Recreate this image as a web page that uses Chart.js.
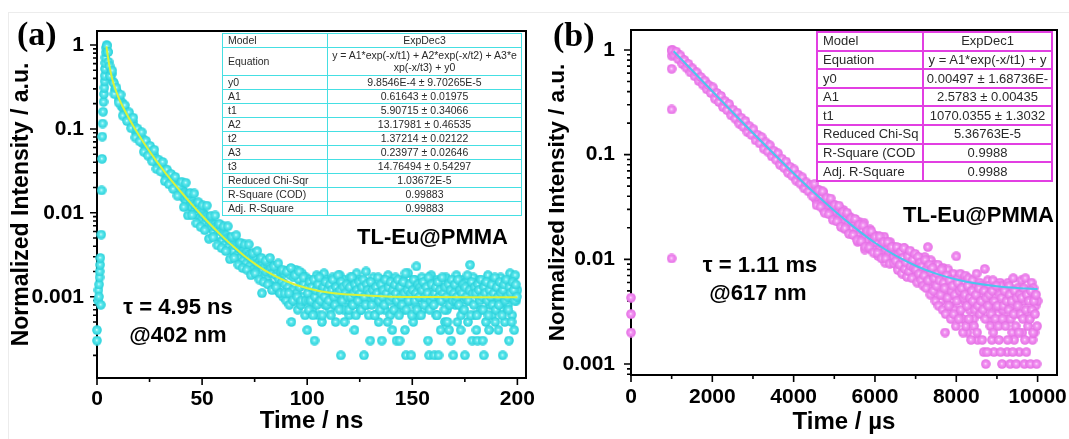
<!DOCTYPE html>
<html lang="en">
<head>
<meta charset="utf-8">
<script src="https://cdn.jsdelivr.net/npm/chart.js@4.4.0/dist/chart.umd.min.js"></script>
<style>
  html, body { margin: 0; padding: 0; background: #fff; }
  #page { position: relative; width: 1069px; height: 439px; overflow: hidden; font-family: "Liberation Sans", Arial, sans-serif; }
  #page canvas { position: absolute; top: 0; }
  .lbl { position: absolute; font-weight: bold; line-height: 1; white-space: nowrap; color: #000; font-size: 22px; }
  .panel { font-family: "Liberation Serif", "Times New Roman", serif; font-size: 34px; }
  .frameline { position: absolute; left: 8px; top: 12px; right: 0; bottom: 0; border-left: 1px solid #ececec; border-top: 1px solid #ececec; }
  table.fit { position: absolute; border-collapse: collapse; table-layout: fixed; background: #fff; color: #2a2a2a; }
  table.fit td { white-space: nowrap; overflow: hidden; padding: 0 0 0 5px; line-height: 1.05; }
  table.fit td + td { text-align: center; padding: 0; }
</style>
</head>
<body>
<div id="page">
  <div class="frameline"></div>
  <canvas id="chartA" width="540" height="439" style="left:0"></canvas>
  <canvas id="chartB" width="529" height="439" style="left:540px"></canvas>

  <div class="lbl panel" style="left:17px;top:16.5px">(a)</div>
  <div class="lbl panel" style="left:553px;top:17.5px">(b)</div>

  <div class="lbl" style="right:561px;top:226.4px">TL-Eu@PMMA</div>
  <div class="lbl" style="left:78px;width:200px;text-align:center;top:296.4px">τ = 4.95 ns</div>
  <div class="lbl" style="left:78px;width:200px;text-align:center;top:324.4px">@402 nm</div>

  <div class="lbl" style="right:15px;top:204.4px">TL-Eu@PMMA</div>
  <div class="lbl" style="left:660px;width:200px;text-align:center;top:254.4px">τ = 1.11 ms</div>
  <div class="lbl" style="left:658px;width:200px;text-align:center;top:282.4px">@617 nm</div>

  <table class="fit" id="tableA" style="left:222px;top:33px;width:300px;height:181px;font-size:10.5px"></table>
  <table class="fit" id="tableB" style="left:816px;top:31px;width:237px;height:149px;font-size:13px"></table>
</div>

<script>
// ---------- panel (a): decay at 402 nm, time in ns ----------
const aRiseX = [0, 0, 0.5, 0.7, 0.9, 1.0, 1.2, 1.3, 1.5, 1.6, 1.8, 2.0, 2.2, 2.4, 2.5, 2.7, 2.9, 3.1, 3.3, 3.5, 3.6, 3.7, 3.8, 3.9, 4.0, 4.2, 4.4, 4.6, 4.8];
const aRiseY = [0.0004, 0.0003, 0.0009, 0.0012, 0.0010, 0.0014, 0.0017, 0.0020, 0.0024, 0.0029, 0.0008, 0.0055, 0.0185, 0.044, 0.081, 0.116, 0.16, 0.21, 0.26, 0.31, 0.37, 0.43, 0.52, 0.61, 0.71, 0.82, 0.93, 1.0, 0.97];

// decay samples every 0.5 ns, from 5.0 to 99.5 ns
const aDecayStart = 5;
const aStep = 0.5;
const aDecayY = [
  0.828, 0.629, 0.561, 0.446, 0.453, 0.368, 0.352, 0.293, 0.288, 0.279,
  0.260, 0.221, 0.220, 0.189, 0.205, 0.176, 0.177, 0.151, 0.153, 0.152,
  0.145, 0.125, 0.126, 0.110, 0.121, 0.104, 0.105, 0.0906, 0.0921, 0.0924,
  0.0890, 0.0770, 0.0781, 0.0681, 0.0755, 0.0657, 0.0668, 0.0578, 0.0590, 0.0594,
  0.0575, 0.0499, 0.0508, 0.0445, 0.0497, 0.0433, 0.0442, 0.0384, 0.0393, 0.0397,
  0.0385, 0.0336, 0.0344, 0.0302, 0.0338, 0.0295, 0.0302, 0.0262, 0.0269, 0.0272,
  0.0265, 0.0231, 0.0238, 0.0209, 0.0235, 0.0206, 0.0211, 0.0184, 0.0190, 0.0192,
  0.0189, 0.0158, 0.0183, 0.0149, 0.0170, 0.0138, 0.0162, 0.0152, 0.0121, 0.0146,
  0.0118, 0.0136, 0.0128, 0.0104, 0.0124, 0.0099, 0.0116, 0.0111, 0.0087, 0.0106,
  0.0084, 0.0099, 0.0093, 0.0075, 0.0091, 0.0086, 0.0069, 0.0083, 0.0066, 0.0079,
  0.0073, 0.0059, 0.0072, 0.0068, 0.0054, 0.0067, 0.0052, 0.0063, 0.0060, 0.0046,
  0.0058, 0.0055, 0.0042, 0.0054, 0.0050, 0.0039, 0.0049, 0.0047, 0.0036, 0.0046,
  0.0035, 0.0044, 0.0041, 0.0031, 0.0041, 0.0038, 0.0029, 0.0038, 0.0035, 0.0027,
  0.0036, 0.0033, 0.0025, 0.0034, 0.0031, 0.0023, 0.0032, 0.0029, 0.0021, 0.0030,
  0.0027, 0.0020, 0.0029, 0.0025, 0.0018, 0.0027, 0.0024, 0.0011, 0.0025, 0.0017,
  0.0023, 0.0020, 0.0016, 0.0024, 0.0021, 0.0014, 0.0022, 0.0019, 0.0013, 0.0023,
  0.0018, 0.0012, 0.0021, 0.0016, 0.0011, 0.0020, 0.0015, 0.0010, 0.0019, 0.0014,
  0.0009, 0.0020, 0.0013, 0.0008, 0.0018, 0.0005, 0.0012, 0.0017, 0.0009, 0.0021,
  0.0011, 0.0007, 0.0016, 0.0013, 0.0008, 0.0019, 0.0010, 0.0014, 0.0006, 0.0017
];

// wider scatter of the decay, every 1 ns from 5.25 to 99.25 ns
const aSpreadStart = 5.25;
const aSpreadStep = 1;
const aSpreadY = [
  0.826, 0.428, 0.496, 0.260, 0.310, 0.207, 0.256, 0.144, 0.191, 0.124,
  0.158, 0.102, 0.136, 0.079, 0.101, 0.0713, 0.0915, 0.0534, 0.0723, 0.0480,
  0.0627, 0.0411, 0.0564, 0.0334, 0.0431, 0.0311, 0.0404, 0.0239, 0.0328, 0.0219,
  0.0290, 0.0192, 0.0268, 0.0160, 0.0209, 0.0235, 0.0117, 0.0228, 0.0093, 0.0172,
  0.0094, 0.0170, 0.0075, 0.0134, 0.0068, 0.0123, 0.0062, 0.0122, 0.0049, 0.0092,
  0.0051, 0.0093, 0.0041, 0.0074, 0.0038, 0.0069, 0.0035, 0.0069, 0.0028, 0.0052,
  0.0029, 0.0054, 0.0024, 0.0044, 0.0022, 0.0042, 0.0021, 0.0042, 0.0018, 0.0033,
  0.0019, 0.0035, 0.0016, 0.0029, 0.0015, 0.0027, 0.0014, 0.0029, 0.0012, 0.0023,
  0.0013, 0.0025, 0.0011, 0.0021, 0.0011, 0.0020, 0.0011, 0.0022, 0.0009, 0.0018,
  0.0010, 0.0020, 0.0009, 0.0017, 0.0009
];

// noisy background, every 0.5 ns from 100 to 200 ns
const aTailStart = 100;
const aTailY = [
  0.0004, 0.0013, 0.0009, 0.0016, 0.0011, 0.0007, 0.0014, 0.0003, 0.0012, 0.0018,
  0.0010, 0.0006, 0.0015, 0.0011, 0.0005, 0.0013, 0.0019, 0.0008, 0.0012, 0.0016,
  0.0009, 0.0014, 0.0007, 0.0011, 0.0017, 0.0010, 0.0013, 0.0005, 0.0015, 0.0008,
  0.0012, 0.0018, 0.0002, 0.0010, 0.0014, 0.0007, 0.0016, 0.0011, 0.0009, 0.0013,
  0.0006, 0.0017, 0.0012, 0.0008, 0.0014, 0.0004, 0.0011, 0.0019, 0.0009, 0.0013,
  0.0016, 0.0007, 0.0012, 0.0010, 0.0002, 0.0015, 0.0020, 0.0008, 0.0013, 0.0011,
  0.0003, 0.0014, 0.0009, 0.0017, 0.0006, 0.0012, 0.0010, 0.0015, 0.0005, 0.0013,
  0.0008, 0.0003, 0.0016, 0.0011, 0.0007, 0.0014, 0.0010, 0.0018, 0.0012, 0.0006,
  0.0015, 0.0004, 0.0011, 0.0009, 0.0017, 0.0003, 0.0013, 0.0008, 0.0003, 0.0014,
  0.0010, 0.0016, 0.0007, 0.0004, 0.0002, 0.0012, 0.0019, 0.0009, 0.0014, 0.0002,
  0.0011, 0.0005, 0.0016, 0.0008, 0.0023, 0.0012, 0.0006, 0.0014, 0.0010, 0.0017,
  0.0007, 0.0013, 0.0009, 0.0015, 0.0011, 0.0003, 0.0002, 0.0012, 0.0018, 0.0008,
  0.0014, 0.0002, 0.0010, 0.0006, 0.0016, 0.0002, 0.0012, 0.0004, 0.0009, 0.0015,
  0.0011, 0.0005, 0.0017, 0.0007, 0.0013, 0.0004, 0.0010, 0.0003, 0.0015, 0.0002,
  0.0012, 0.0008, 0.0018, 0.0005, 0.0014, 0.0010, 0.0004, 0.0016, 0.0007, 0.0012,
  0.0002, 0.0015, 0.0009, 0.0005, 0.0013, 0.0024, 0.0011, 0.0003, 0.0017, 0.0006,
  0.0014, 0.0004, 0.0003, 0.0010, 0.0016, 0.0007, 0.0012, 0.0003, 0.0002, 0.0015,
  0.0005, 0.0011, 0.0018, 0.0004, 0.0008, 0.0013, 0.0006, 0.0016, 0.0010, 0.0005,
  0.0014, 0.0009, 0.0004, 0.0012, 0.0017, 0.0007, 0.0002, 0.0013, 0.0005, 0.0010,
  0.0015, 0.0008, 0.0003, 0.0019, 0.0011, 0.0006, 0.0014, 0.0004, 0.0018, 0.0009,
  0.0012
];

// second set of background samples in between, from 100.25 ns
const aTail2Start = 100.25;
const aTail2Y = [
  0.0011, 0.0007, 0.0015, 0.0009, 0.0013, 0.0006, 0.0016, 0.0010, 0.0012, 0.0008, 0.0014, 0.0017, 0.0009, 0.0011, 0.0006, 0.0013, 0.0010, 0.0015, 0.0008, 0.0012,
  0.0009, 0.0014, 0.0006, 0.0012, 0.0016, 0.0010, 0.0008, 0.0013, 0.0011, 0.0018, 0.0007, 0.0012, 0.0015, 0.0009, 0.0013, 0.0005, 0.0011, 0.0014, 0.0010, 0.0007,
  0.0013, 0.0010, 0.0017, 0.0008, 0.0011, 0.0014, 0.0006, 0.0012, 0.0009, 0.0015, 0.0011, 0.0007, 0.0013, 0.0016, 0.0010, 0.0008, 0.0014, 0.0012, 0.0006, 0.0011,
  0.0015, 0.0008, 0.0012, 0.0010, 0.0006, 0.0013, 0.0011, 0.0017, 0.0009, 0.0007, 0.0014, 0.0010, 0.0012, 0.0008, 0.0016, 0.0011, 0.0005, 0.0013, 0.0009, 0.0015,
  0.0010, 0.0012, 0.0007, 0.0014, 0.0011, 0.0009, 0.0016, 0.0006, 0.0013, 0.0010, 0.0008, 0.0015, 0.0011, 0.0019, 0.0007, 0.0012, 0.0009, 0.0014, 0.0011, 0.0006,
  0.0012, 0.0016, 0.0009, 0.0011, 0.0007, 0.0014, 0.0010, 0.0013, 0.0006, 0.0012, 0.0015, 0.0008, 0.0010, 0.0013, 0.0011, 0.0017, 0.0007, 0.0009, 0.0014, 0.0010,
  0.0008, 0.0011, 0.0013, 0.0006, 0.0015, 0.0010, 0.0012, 0.0009, 0.0017, 0.0011, 0.0007, 0.0013, 0.0010, 0.0005, 0.0014, 0.0008, 0.0012, 0.0016, 0.0009, 0.0011,
  0.0014, 0.0009, 0.0010, 0.0016, 0.0008, 0.0012, 0.0006, 0.0011, 0.0014, 0.0007, 0.0013, 0.0010, 0.0018, 0.0009, 0.0012, 0.0006, 0.0015, 0.0011, 0.0008, 0.0013,
  0.0011, 0.0006, 0.0014, 0.0012, 0.0009, 0.0016, 0.0010, 0.0007, 0.0013, 0.0011, 0.0015, 0.0009, 0.0006, 0.0012, 0.0010, 0.0014, 0.0008, 0.0011, 0.0017, 0.0007,
  0.0013, 0.0010, 0.0008, 0.0015, 0.0011, 0.0006, 0.0012, 0.0014, 0.0009, 0.0016, 0.0010, 0.0007, 0.0013, 0.0011, 0.0005, 0.0015, 0.0012, 0.0009, 0.0014, 0.0010
];

const aFitX = [4.5, 5, 6, 7, 8, 10, 12, 15, 18, 22, 26, 30, 35, 40, 45, 50, 55, 60, 65, 70, 75, 80, 90, 100, 110, 120, 140, 160, 180, 200];
const aFitY = [0.962, 0.781, 0.550, 0.419, 0.338, 0.245, 0.190, 0.137, 0.101, 0.0699, 0.0498, 0.0363, 0.0250, 0.0177, 0.0127, 0.00923, 0.00682, 0.00513, 0.00393, 0.00308, 0.00248, 0.00205, 0.00153, 0.00126, 0.00112, 0.00106, 0.00100, 0.000990, 0.000986, 0.000986];

const aXMajor = [0, 50, 100, 150, 200];

// ---------- panel (b): decay at 617 nm, time in µs ----------
const bEdgeX = [0, 0, 0, 1000, 1000, 1000, 1000];
const bEdgeY = [0.0043, 0.0030, 0.0020, 0.0102, 0.27, 0.66, 0.88];

// samples every 25 µs from 1000 to 10000 µs
const bDecayStart = 1000;
const bStep = 25;
const bDecayY = [
  1.00, 0.99, 0.96, 0.95,   0.94, 0.89, 0.90, 0.84,   0.86, 0.81, 0.82, 0.77,   0.79, 0.74, 0.75, 0.70,
  0.71, 0.68, 0.66, 0.67,   0.65, 0.61, 0.62, 0.58,   0.60, 0.56, 0.55, 0.53,   0.54, 0.51, 0.52, 0.48,
  0.49, 0.48, 0.45, 0.46,   0.45, 0.42, 0.43, 0.40,   0.41, 0.39, 0.39, 0.37,   0.38, 0.35, 0.35, 0.34,
  0.34, 0.33, 0.31, 0.32,   0.31, 0.29, 0.30, 0.28,   0.29, 0.27, 0.26, 0.26,   0.26, 0.245, 0.245, 0.23,
  0.24, 0.22, 0.225, 0.21,  0.215, 0.205, 0.20, 0.195, 0.20, 0.185, 0.185, 0.175, 0.18, 0.17, 0.17, 0.16,
  0.165, 0.155, 0.155, 0.148, 0.152, 0.141, 0.142, 0.133, 0.137, 0.130, 0.127, 0.124, 0.127, 0.118, 0.119, 0.112,
  0.115, 0.108, 0.109, 0.103, 0.106, 0.099, 0.097, 0.094, 0.097, 0.090, 0.091, 0.085, 0.088, 0.083, 0.081, 0.079,
  0.082, 0.075, 0.076, 0.071, 0.074, 0.069, 0.071, 0.066, 0.069, 0.063, 0.064, 0.060, 0.062, 0.059, 0.057, 0.056,
  0.058, 0.053, 0.054, 0.050, 0.053, 0.049, 0.050, 0.046, 0.049, 0.045, 0.044, 0.044,
  0.0472, 0.0384, 0.0427, 0.0346, 0.0463, 0.0379, 0.0339, 0.0398, 0.0346, 0.0438, 0.0290, 0.0349,
  0.0377, 0.0306, 0.0320, 0.0377, 0.0273, 0.0320, 0.0287, 0.0333, 0.0315, 0.0257, 0.0285, 0.0232,
  0.0312, 0.0256, 0.0228, 0.0268, 0.0234, 0.0296, 0.0196, 0.0237, 0.0256, 0.0208, 0.0218, 0.0256,
  0.0187, 0.0219, 0.0197, 0.0229, 0.0225, 0.0169, 0.0199, 0.0147, 0.0229, 0.0175, 0.0149, 0.0191,
  0.0159, 0.0224, 0.0124, 0.0167, 0.0189, 0.0142, 0.0153, 0.0194, 0.0125, 0.0159, 0.0138, 0.0171,
  0.0162, 0.0123, 0.0145, 0.0108, 0.0166, 0.0127, 0.0110, 0.0140, 0.0116, 0.0165, 0.0093, 0.0124,
  0.0139, 0.0106, 0.0114, 0.0146, 0.0093, 0.0120, 0.0104, 0.0131, 0.0122, 0.0093, 0.0110, 0.0083,
  0.0127, 0.0098, 0.0085, 0.0109, 0.0090, 0.0127, 0.0072, 0.0097, 0.0109, 0.0083, 0.0090, 0.0115,
  0.0074, 0.0095, 0.0083, 0.0104, 0.0097, 0.0075, 0.0090, 0.0068, 0.0102, 0.0080, 0.0070, 0.0091,
  0.0074, 0.0105, 0.0060, 0.0082, 0.0131, 0.0069, 0.0076, 0.0098, 0.0061, 0.0079, 0.0070, 0.0089,
  0.0066, 0.0046, 0.0089, 0.0053, 0.0076, 0.0040, 0.0060, 0.0083, 0.0050, 0.0020, 0.0070, 0.0043,
  0.0080, 0.0056, 0.0036, 0.0066, 0.0046, 0.0073, 0.0033, 0.0060, 0.0107, 0.0043, 0.0066, 0.0030,
  0.0073, 0.0050, 0.0027, 0.0060, 0.0040, 0.0070, 0.0053, 0.0020, 0.0066, 0.0033, 0.0056, 0.0043,
  0.0063, 0.0027, 0.0053, 0.0036, 0.0073, 0.0017, 0.0046, 0.0060, 0.0056, 0.0033, 0.0046, 0.0013,
  0.0081, 0.0010, 0.0043, 0.0063, 0.0056, 0.0027, 0.0040, 0.0017, 0.0063, 0.0013, 0.0036, 0.0053,
  0.0050, 0.0030, 0.0017, 0.0060, 0.0056, 0.0010, 0.0033, 0.0046, 0.0050, 0.0027, 0.0013, 0.0060,
  0.0056, 0.0010, 0.0036, 0.0020, 0.0066, 0.0017, 0.0043, 0.0010, 0.0053, 0.0030, 0.0013, 0.0046,
  0.0063, 0.0020, 0.0040, 0.0010, 0.0066, 0.0013, 0.0050, 0.0027, 0.0046, 0.0010, 0.0060, 0.0017,
  0.0053, 0.0020, 0.0036, 0.0010,
  0.0040
];

// wider scatter along the decay, every 50 µs from 1012.5 µs
const bSpreadStart = 1012.5;
const bSpreadStep = 50;
const bSpreadY = [
  0.98, 0.89, 0.964, 0.815, 0.886, 0.734, 0.800, 0.676, 0.736, 0.610,
  0.665, 0.562, 0.612, 0.506, 0.552, 0.467, 0.509, 0.421, 0.459, 0.388,
  0.439, 0.342, 0.388, 0.318, 0.364, 0.284, 0.324, 0.266, 0.304, 0.237,
  0.269, 0.221, 0.252, 0.197, 0.225, 0.184, 0.210, 0.164, 0.187, 0.154,
  0.175, 0.137, 0.155, 0.128, 0.147, 0.114, 0.131, 0.107, 0.123, 0.096,
  0.109, 0.0894, 0.103, 0.080, 0.0914, 0.075, 0.0859, 0.0671, 0.0766, 0.0628,
  0.0723, 0.0564, 0.0644, 0.0529, 0.0608, 0.0475, 0.0544, 0.0446, 0.0515, 0.0402,
  0.0525, 0.0329, 0.0457, 0.0318, 0.0445, 0.0278, 0.0388, 0.0270, 0.0381, 0.0238,
  0.0331, 0.0231, 0.0326, 0.0204, 0.0284, 0.0198, 0.0279, 0.0175, 0.0246, 0.0171,
  0.0243, 0.0152, 0.0214, 0.0149, 0.0211, 0.0132, 0.0186, 0.0130, 0.0185, 0.0116,
  0.0164, 0.0115, 0.0165, 0.0102, 0.0146, 0.0102, 0.0146, 0.0091, 0.0131, 0.0092
];

// extra samples in between for the spread-out late part, from 6512.5 µs
const bDenseStart = 6512.5;
const bDenseY = [
  0.0097, 0.0131, 0.0079, 0.0112, 0.0089, 0.0118, 0.0073, 0.0103, 0.0128, 0.0081, 0.0094, 0.0068,
  0.0107, 0.0077, 0.0121, 0.0086, 0.0066, 0.0099, 0.0083, 0.0113, 0.0080, 0.0060, 0.0106, 0.0073,
  0.0093, 0.0063, 0.0086, 0.0056, 0.0070, 0.0099, 0.0053, 0.0083, 0.0063, 0.0089, 0.0046, 0.0076,
  0.0083, 0.0050, 0.0066, 0.0040, 0.0056, 0.0073, 0.0036, 0.0063, 0.0046, 0.0080, 0.0033, 0.0060,
  0.0053, 0.0030, 0.0070, 0.0043, 0.0036, 0.0063, 0.0027, 0.0050, 0.0056, 0.0030, 0.0046, 0.0023,
  0.0040, 0.0060, 0.0027, 0.0050, 0.0033, 0.0053, 0.0020, 0.0043, 0.0046, 0.0023, 0.0036, 0.0056,
  0.0027, 0.0043, 0.0017, 0.0050, 0.0040, 0.0023, 0.0033, 0.0046, 0.0020, 0.0036, 0.0053, 0.0030,
  0.0040, 0.0017, 0.0033, 0.0050, 0.0027, 0.0043, 0.0013, 0.0036, 0.0046, 0.0023, 0.0030, 0.0050,
  0.0020, 0.0040, 0.0027, 0.0056, 0.0036, 0.0023, 0.0046, 0.0013, 0.0043, 0.0027, 0.0036, 0.0050,
  0.0023, 0.0040, 0.0017, 0.0033, 0.0046, 0.0027, 0.0040, 0.0013, 0.0030, 0.0050, 0.0023, 0.0043,
  0.0036, 0.0020, 0.0046, 0.0030, 0.0043, 0.0027, 0.0053, 0.0017, 0.0033, 0.0046, 0.0023, 0.0040,
  0.0027, 0.0050, 0.0033, 0.0020, 0.0040, 0.0030, 0.0046, 0.0023
];

const bFitX = [1050, 1500, 2000, 2500, 3000, 3500, 4000, 4500, 5000, 5500, 6000, 6500, 7000, 7500, 8000, 8500, 9000, 9500, 10000];
const bFitY = [0.971, 0.640, 0.403, 0.254, 0.161, 0.103, 0.0664, 0.0434, 0.0291, 0.0201, 0.0144, 0.0109, 0.00869, 0.00730, 0.00643, 0.00588, 0.00554, 0.00533, 0.00520];

const bXMajor = [0, 2000, 4000, 6000, 8000, 10000];

// shared log axis labels
const yMajorValues = [0.001, 0.01, 0.1, 1];
const yMajorLabels = ['0.001', '0.01', '0.1', '1'];

// fit result tables
const tableARows = [
  ['Model', 'ExpDec3'],
  ['Equation', 'y = A1*exp(-x/t1) + A2*exp(-x/t2) + A3*e<br>xp(-x/t3) + y0'],
  ['y0', '9.8546E-4 ± 9.70265E-5'],
  ['A1', '0.61643 ± 0.01975'],
  ['t1', '5.90715 ± 0.34066'],
  ['A2', '13.17981 ± 0.46535'],
  ['t2', '1.37214 ± 0.02122'],
  ['A3', '0.23977 ± 0.02646'],
  ['t3', '14.76494 ± 0.54297'],
  ['Reduced Chi-Sqr', '1.03672E-5'],
  ['R-Square (COD)', '0.99883'],
  ['Adj. R-Square', '0.99883']
];
const tableBRows = [
  ['Model', 'ExpDec1'],
  ['Equation', 'y = A1*exp(-x/t1) + y'],
  ['y0', '0.00497 ± 1.68736E-'],
  ['A1', '2.5783 ± 0.00435'],
  ['t1', '1070.0355 ± 1.3032'],
  ['Reduced Chi-Sq', '5.36763E-5'],
  ['R-Square (COD', '0.9988'],
  ['Adj. R-Square', '0.9988']
];

function fillTable(id, rows, col1, color, unit, lineW) {
  const t = document.getElementById(id);
  let html = '<colgroup><col style="width:' + col1 + 'px"><col></colgroup>';
  rows.forEach((r, i) => {
    const h = (i === 1 && r[1].indexOf('<br>') >= 0) ? unit * 2 : unit;
    html += '<tr style="height:' + h + 'px"><td>' + r[0] + '</td><td>' + r[1] + '</td></tr>';
  });
  t.innerHTML = html;
  t.style.border = lineW + 'px solid ' + color;
  t.querySelectorAll('td').forEach(td => { td.style.border = lineW + 'px solid ' + color; });
}
fillTable('tableA', tableARows, 105, '#45dfe3', 14, 1.5);
fillTable('tableB', tableBRows, 106, '#e23fe2', 18.6, 2);

// ---------- drawing helpers ----------
Chart.defaults.font.family = '"Liberation Sans", Arial, sans-serif';
Chart.defaults.color = '#000';

function makeBall(light, mid, dark) {
  const c = document.createElement('canvas');
  c.width = 10; c.height = 10;
  const g = c.getContext('2d');
  const grad = g.createRadialGradient(4.7, 4.7, 0.2, 5, 5, 5);
  grad.addColorStop(0, light);
  grad.addColorStop(0.25, mid);
  grad.addColorStop(1, dark);
  g.fillStyle = grad;
  g.beginPath();
  g.arc(5, 5, 4.8, 0, Math.PI * 2);
  g.fill();
  return c;
}
const ballA = makeBall('#dcffff', '#62e9ee', '#24d0da');
const ballB = makeBall('#ffe2ff', '#f398f3', '#e46ae4');

function isDecade(v) {
  return yMajorValues.some(m => Math.abs(v / m - 1) < 1e-6);
}

function logTicks(min, max) {
  const out = [];
  [0.0001, 0.001, 0.01, 0.1, 1].forEach(d => {
    for (let m = 1; m <= 9; m++) {
      const v = d * m;
      if (v >= min && v <= max) out.push({ value: v, big: m === 1 });
    }
  });
  return out;
}

function linTicks(majors) {
  const out = [];
  majors.forEach((v, i) => {
    out.push({ value: v, big: true });
    if (i < majors.length - 1) out.push({ value: (v + majors[i + 1]) / 2, big: false });
  });
  return out;
}

// frame box + major/minor tick marks
const frameTicks = {
  id: 'frameTicks',
  beforeDatasetsDraw(chart) {
    const { ctx, chartArea: a } = chart;
    const xs = chart.scales.x, ys = chart.scales.y;
    ctx.save();
    ctx.strokeStyle = '#000';
    ctx.lineWidth = 1.6;
    ctx.beginPath();
    xs.ticks.forEach(t => {
      const p = xs.getPixelForValue(t.value);
      ctx.moveTo(p, a.bottom);
      ctx.lineTo(p, a.bottom + (t.big ? 7 : 4));
    });
    ys.ticks.forEach(t => {
      const p = ys.getPixelForValue(t.value);
      ctx.moveTo(a.left, p);
      ctx.lineTo(a.left - (t.big ? 7 : 4), p);
    });
    ctx.stroke();
    ctx.lineWidth = 2;
    ctx.strokeRect(a.left, a.top, a.right - a.left, a.bottom - a.top);
    ctx.restore();
  }
};

function pts(xs, ys) { return ys.map((y, i) => ({ x: xs[i], y })); }
function stepPts(x0, dx, ys) { return ys.map((y, i) => ({ x: x0 + i * dx, y })); }

function makeChart(id, cfg) {
  const tickFont = { size: 21, weight: 'bold' };
  return new Chart(document.getElementById(id), {
    type: 'scatter',
    data: {
      datasets: [
        {
          label: 'fit', data: cfg.fit, showLine: true, borderColor: cfg.lineColor, borderWidth: 2,
          pointRadius: 0, cubicInterpolationMode: 'monotone', order: 0
        },
        {
          label: 'data', data: cfg.points, pointStyle: cfg.ball, pointRadius: 5,
          clip: false, order: 1
        }
      ]
    },
    options: {
      responsive: false,
      animation: false,
      events: [],
      layout: { padding: { left: 0, right: cfg.padRight, top: cfg.padTop, bottom: 0 } },
      plugins: { legend: { display: false }, tooltip: { enabled: false } },
      scales: {
        x: {
          type: 'linear', min: 0, max: cfg.xMax,
          afterBuildTicks: s => { s.ticks = linTicks(cfg.xMajor); },
          ticks: {
            autoSkip: false, maxRotation: 0, padding: cfg.xPad, font: tickFont, color: '#000',
            callback: v => cfg.xMajor.includes(v) ? String(v) : ''
          },
          grid: { display: true, drawOnChartArea: false, drawTicks: true, tickLength: 7, tickColor: 'rgba(0,0,0,0)' },
          border: { display: false },
          title: {
            display: true, text: cfg.xTitle, color: '#000',
            font: { size: 24, weight: 'bold' }, padding: { top: 0, bottom: cfg.xTitlePad }
          },
          afterFit: s => { s.height = cfg.xHeight; s.paddingLeft = 0; s.paddingRight = 0; }
        },
        y: {
          type: 'logarithmic', min: cfg.yMin, max: cfg.yMax,
          afterBuildTicks: s => { s.ticks = logTicks(cfg.yMin, cfg.yMax); },
          ticks: {
            autoSkip: false, padding: cfg.yPad, font: tickFont, color: '#000',
            callback: v => {
              if (!isDecade(v)) return '';
              const i = yMajorValues.findIndex(m => Math.abs(v / m - 1) < 1e-6);
              return yMajorLabels[i];
            }
          },
          grid: { display: true, drawOnChartArea: false, drawTicks: true, tickLength: 7, tickColor: 'rgba(0,0,0,0)' },
          border: { display: false },
          title: {
            display: true, text: 'Normalized Intensity / a.u.', color: '#000',
            font: { size: cfg.yTitleSize, weight: 'bold' }, padding: { top: cfg.yTitlePad, bottom: 0 }
          },
          afterFit: s => { s.width = cfg.yWidth; s.paddingTop = 0; s.paddingBottom = 0; }
        }
      }
    },
    plugins: [frameTicks]
  });
}

makeChart('chartA', {
  fit: pts(aFitX, aFitY),
  points: pts(aRiseX, aRiseY)
    .concat(stepPts(aDecayStart, aStep, aDecayY))
    .concat(stepPts(aSpreadStart, aSpreadStep, aSpreadY))
    .concat(stepPts(aTailStart, aStep, aTailY))
    .concat(stepPts(aTail2Start, aStep, aTail2Y)),
  lineColor: '#d9f23a',
  ball: ballA,
  xMax: 204.1, xMajor: aXMajor, xTitle: 'Time / ns',
  yMin: 1.074e-4, yMax: 1.47,
  padRight: 14, padTop: 31,
  xHeight: 61, yWidth: 97,
  xPad: 2, yPad: 6, xTitlePad: 3,
  yTitleSize: 23, yTitlePad: 8
});

makeChart('chartB', {
  fit: pts(bFitX, bFitY),
  points: pts(bEdgeX, bEdgeY)
    .concat(stepPts(bDecayStart, bStep, bDecayY))
    .concat(stepPts(bSpreadStart, bSpreadStep, bSpreadY))
    .concat(stepPts(bDenseStart, bStep, bDenseY)),
  lineColor: '#4cc4ee',
  ball: ballB,
  xMax: 10477, xMajor: bXMajor, xTitle: 'Time / µs',
  yMin: 7.86e-4, yMax: 1.55,
  padRight: 12, padTop: 30,
  xHeight: 64, yWidth: 91,
  xPad: 3, yPad: 9, xTitlePad: 2,
  yTitleSize: 22.5, yTitlePad: 4
});
</script>
</body>
</html>
